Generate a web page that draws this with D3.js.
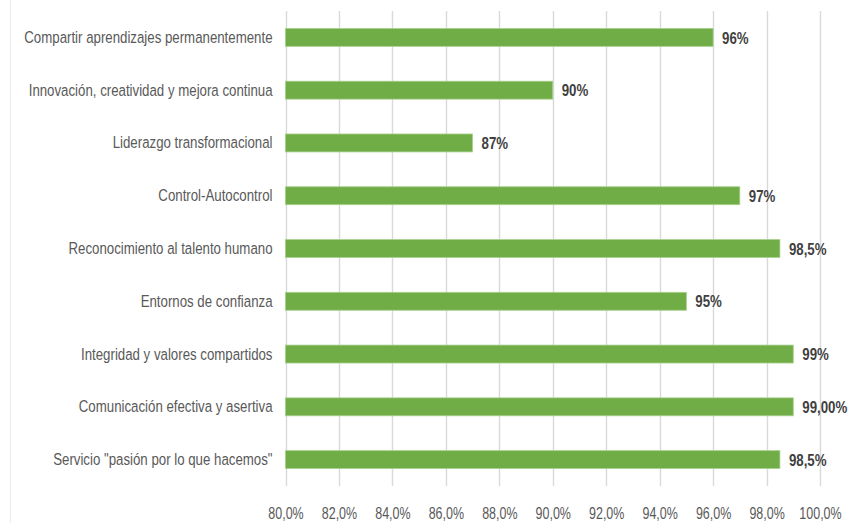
<!DOCTYPE html>
<html>
<head>
<meta charset="utf-8">
<script src="https://cdn.jsdelivr.net/npm/d3@7"></script>
<style>
  html, body { margin: 0; padding: 0; background: #fff; }
  svg { display: block; }
  text { font-family: "Liberation Sans", Arial, sans-serif; }
</style>
</head>
<body>
<svg id="chart" width="848" height="523"></svg>
<script>
// Values by category (top to bottom)
const categories = [
  "Compartir aprendizajes permanentemente",
  "Innovación, creatividad y mejora continua",
  "Liderazgo transformacional",
  "Control-Autocontrol",
  "Reconocimiento al talento humano ",
  "Entornos de confianza",
  "Integridad y valores compartidos",
  "Comunicación efectiva y asertiva",
  "Servicio \"pasión por lo que hacemos\""
];
const values = [0.96, 0.90, 0.87, 0.97, 0.985, 0.95, 0.99, 0.99, 0.985];
const valueLabels = ["96%", "90%", "87%", "97%", "98,5%", "95%", "99%", "99,00%", "98,5%"];
const tickValues = [0.80, 0.82, 0.84, 0.86, 0.88, 0.90, 0.92, 0.94, 0.96, 0.98, 1.00];
const tickLabels = ["80,0%", "82,0%", "84,0%", "86,0%", "88,0%", "90,0%", "92,0%", "94,0%", "96,0%", "98,0%", "100,0%"];

const svg = d3.select("#chart");
const margin = { left: 285.5, right: 28, top: 11, bottom: 37 };
const W = 848, H = 523;
const squeeze = 0.78;   // horizontal condensing of all text

const x = d3.scaleLinear().domain([0.80, 1.00]).range([margin.left, W - margin.right]);
const y = d3.scaleBand().domain(categories).range([margin.top, H - margin.bottom]).paddingInner(0.66).paddingOuter(0.33);

// condense a text selection horizontally, keeping its anchor x in place
function condense(sel) {
  sel.each(function () {
    const t = d3.select(this);
    const x0 = +(t.attr("x") || 0);
    t.attr("x", x0 / squeeze).attr("transform", `scale(${squeeze},1)`);
  });
}

// outer left border
svg.append("line")
  .attr("x1", 10.5).attr("x2", 10.5).attr("y1", 0).attr("y2", H)
  .attr("stroke", "#ebebeb").attr("stroke-width", 1);

// vertical gridlines
svg.append("g").selectAll("line").data(tickValues).join("line")
  .attr("x1", d => Math.round(x(d)) + 0.5).attr("x2", d => Math.round(x(d)) + 0.5)
  .attr("y1", margin.top).attr("y2", H - margin.bottom)
  .attr("stroke", "#d9d9d9").attr("stroke-width", 1.4);

// bars
svg.append("g").selectAll("rect").data(values).join("rect")
  .attr("x", x(0.80))
  .attr("y", (d, i) => y(categories[i]))
  .attr("width", d => x(d) - x(0.80))
  .attr("height", y.bandwidth())
  .attr("fill", "#70ad47")
  .attr("stroke", "#a9d18e").attr("stroke-width", 0.8);

// value labels
svg.append("g").selectAll("text").data(values).join("text")
  .attr("x", d => x(d) + 9)
  .attr("y", (d, i) => y(categories[i]) + y.bandwidth() / 2)
  .attr("dy", "0.36em")
  .attr("fill", "#404040")
  .attr("font-size", 17)
  .attr("font-weight", "bold")
  .text((d, i) => valueLabels[i])
  .call(condense);

// category axis labels
const yAxis = d3.axisLeft(y).tickSize(0).tickPadding(13);
const gy = svg.append("g").attr("transform", `translate(${x(0.80)},0)`).call(yAxis);
gy.select(".domain").remove();
gy.selectAll("text").attr("fill", "#595959").attr("font-size", 17)
  .style("font-family", "'Liberation Sans', Arial, sans-serif")
  .call(condense);

// x axis tick labels
const xAxis = d3.axisBottom(x).tickValues(tickValues).tickSize(0).tickPadding(22)
  .tickFormat((d, i) => tickLabels[i]);
const gx = svg.append("g").attr("transform", `translate(0,${H - margin.bottom})`).call(xAxis);
gx.select(".domain").remove();
gx.selectAll("text").attr("fill", "#595959").attr("font-size", 16)
  .style("font-family", "'Liberation Sans', Arial, sans-serif")
  .call(condense);
</script>
</body>
</html>
